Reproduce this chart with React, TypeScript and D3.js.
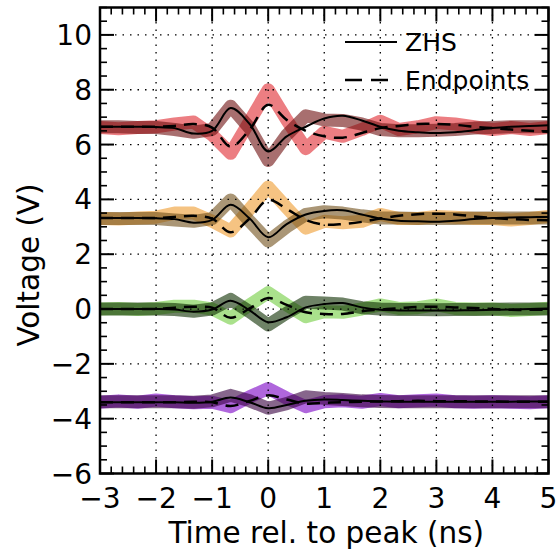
import { useEffect, useRef } from "react";
import * as d3 from "d3";

const W = 556;
const H = 554;

// sample times (ns), 1/3 ns spacing
const times = [
  -3, -2.67, -2.33, -2, -1.67, -1.33, -1, -0.67, -0.33, 0, 0.33, 0.67, 1,
  1.33, 1.67, 2, 2.33, 2.67, 3, 3.33, 3.67, 4, 4.33, 4.67, 5,
];

// red trace
const redZhsBand = [6.65, 6.65, 6.62, 6.62, 6.55, 6.45, 6.55, 7.4, 6.6, 5.42, 6.35, 7.05, 6.9, 6.88, 6.75, 6.55, 6.5, 6.5, 6.52, 6.55, 6.6, 6.62, 6.65, 6.65, 6.65];
const redEndBand = [6.62, 6.58, 6.62, 6.65, 6.75, 6.82, 6.35, 5.68, 6.85, 8.0, 6.9, 5.85, 6.45, 6.3, 6.55, 6.85, 6.55, 6.65, 6.8, 6.75, 6.65, 6.55, 6.62, 6.55, 6.62];
const redZhs = [6.65, 6.65, 6.65, 6.64, 6.6, 6.4, 6.5, 7.33, 6.75, 5.75, 6.3, 6.65, 6.95, 7.05, 6.88, 6.65, 6.5, 6.45, 6.42, 6.45, 6.52, 6.6, 6.65, 6.68, 6.7];
const redEnd = [6.65, 6.65, 6.65, 6.65, 6.68, 6.75, 6.62, 5.92, 6.55, 7.45, 6.9, 6.5, 6.3, 6.25, 6.42, 6.6, 6.68, 6.75, 6.75, 6.72, 6.65, 6.6, 6.55, 6.5, 6.47];

// orange trace
const orangeZhsBand = [3.3, 3.3, 3.3, 3.3, 3.25, 3.2, 3.3, 3.98, 3.2, 2.48, 3.0, 3.45, 3.55, 3.5, 3.4, 3.32, 3.32, 3.3, 3.3, 3.3, 3.32, 3.32, 3.32, 3.32, 3.32];
const orangeEndBand = [3.3, 3.28, 3.32, 3.35, 3.5, 3.5, 3.2, 2.85, 3.65, 4.45, 3.7, 2.95, 3.2, 3.15, 3.2, 3.45, 3.3, 3.3, 3.38, 3.35, 3.3, 3.3, 3.25, 3.3, 3.38];
const orangeZhs = [3.32, 3.32, 3.32, 3.31, 3.28, 3.15, 3.25, 3.8, 3.3, 2.62, 3.1, 3.45, 3.58, 3.6, 3.45, 3.3, 3.22, 3.2, 3.18, 3.22, 3.28, 3.32, 3.34, 3.35, 3.36];
const orangeEnd = [3.32, 3.32, 3.32, 3.32, 3.36, 3.4, 3.3, 2.8, 3.3, 3.98, 3.65, 3.25, 3.08, 3.1, 3.18, 3.3, 3.4, 3.46, 3.48, 3.45, 3.38, 3.32, 3.28, 3.25, 3.24];

// green trace
const greenZhsBand = [0, 0, 0, 0, -0.02, -0.08, 0, 0.35, -0.1, -0.58, -0.15, 0.25, 0.22, 0.18, 0.05, 0, -0.02, -0.02, -0.03, -0.02, -0.02, -0.01, 0, 0, 0];
const greenEndBand = [0, 0.02, -0.02, 0.02, 0.1, 0.1, 0.0, -0.33, 0.15, 0.6, 0.15, -0.28, -0.1, -0.12, 0, 0.15, 0.02, 0.05, 0.15, 0.02, 0, 0, -0.05, -0.02, 0.03];
const greenZhs = [0, 0, 0, 0, -0.02, -0.1, -0.02, 0.3, -0.05, -0.48, -0.3, 0.06, 0.18, 0.22, 0.06, -0.03, -0.05, -0.05, -0.05, -0.05, -0.04, -0.03, -0.02, 0, 0.02];
const greenEnd = [0, 0, 0, 0, 0.05, 0.08, 0.05, -0.32, 0.02, 0.4, 0.15, -0.12, -0.18, -0.18, -0.08, -0.02, 0.03, 0.08, 0.08, 0.06, 0.04, 0, -0.03, -0.03, -0.02];

// purple trace
const purpleZhsBand = [-3.38, -3.38, -3.38, -3.38, -3.38, -3.4, -3.35, -3.15, -3.35, -3.62, -3.45, -3.2, -3.26, -3.3, -3.35, -3.37, -3.38, -3.38, -3.38, -3.38, -3.38, -3.38, -3.38, -3.38, -3.38];
const purpleEndBand = [-3.4, -3.35, -3.4, -3.32, -3.38, -3.42, -3.4, -3.56, -3.2, -2.9, -3.25, -3.56, -3.38, -3.35, -3.4, -3.3, -3.38, -3.35, -3.32, -3.38, -3.4, -3.38, -3.4, -3.42, -3.38];
const purpleZhs = [-3.4, -3.4, -3.4, -3.4, -3.4, -3.42, -3.38, -3.23, -3.4, -3.62, -3.5, -3.35, -3.3, -3.32, -3.35, -3.37, -3.38, -3.38, -3.38, -3.38, -3.38, -3.38, -3.38, -3.37, -3.37];
const purpleEnd = [-3.4, -3.4, -3.4, -3.4, -3.4, -3.38, -3.4, -3.54, -3.35, -3.15, -3.3, -3.45, -3.42, -3.4, -3.38, -3.37, -3.36, -3.35, -3.36, -3.36, -3.37, -3.37, -3.38, -3.38, -3.38];

const xTicks = [-3, -2, -1, 0, 1, 2, 3, 4, 5];
const yTicks = [-6, -4, -2, 0, 2, 4, 6, 8, 10];
const legendLabels = ["ZHS", "Endpoints"];

const traces = [
  { light: "#e0282e", dark: "#6e0f0f", endBand: redEndBand, zhsBand: redZhsBand, zhs: redZhs, end: redEnd },
  { light: "#ee9b2f", dark: "#71501a", endBand: orangeEndBand, zhsBand: orangeZhsBand, zhs: orangeZhs, end: orangeEnd },
  { light: "#71cd3f", dark: "#0d2f00", endBand: greenEndBand, zhsBand: greenZhsBand, zhs: greenZhs, end: greenEnd },
  { light: "#7a00c5", dark: "#37003f", endBand: purpleEndBand, zhsBand: purpleZhsBand, zhs: purpleZhs, end: purpleEnd },
];

const font = "'DejaVu Sans', sans-serif";
const fmt = (d) => (d < 0 ? "\u2212" + Math.abs(d) : String(d));

const App = () => {
  const svgRef = useRef(null);

  useEffect(() => {
    const svg = d3.select(svgRef.current);
    svg.selectAll("*").remove();

    const left = 100;
    const right = 548.5;
    const top = 7.5;
    const bottom = 473.5;

    const x = d3.scaleLinear().domain([-3, 5]).range([left, right]);
    const y = d3.scaleLinear().domain([-6, 11]).range([bottom, top]);

    svg.append("defs")
      .append("clipPath")
      .attr("id", "plotclip")
      .append("rect")
      .attr("x", left)
      .attr("y", top)
      .attr("width", right - left)
      .attr("height", bottom - top);

    const plot = svg.append("g").attr("clip-path", "url(#plotclip)");

    const band = d3.line().x((d, i) => x(times[i])).y((d) => y(d));
    const smooth = d3
      .line()
      .curve(d3.curveCatmullRom)
      .x((d, i) => x(times[i]))
      .y((d) => y(d));

    traces.forEach((t) => {
      [
        [t.endBand, t.light],
        [t.zhsBand, t.dark],
      ].forEach(([vals, c]) => {
        plot
          .append("path")
          .datum(vals)
          .attr("d", band)
          .attr("fill", "none")
          .attr("stroke", c)
          .attr("stroke-width", 13)
          .attr("stroke-linejoin", "round")
          .attr("opacity", 0.6);
      });
    });

    // grid
    const grid = svg.append("g").attr("stroke", "#000").attr("stroke-width", 1.3).attr("stroke-dasharray", "1.5,6");
    xTicks.slice(1, -1).forEach((d) => {
      grid.append("line").attr("x1", x(d)).attr("x2", x(d)).attr("y1", bottom).attr("y2", top);
    });
    yTicks.slice(1).forEach((d) => {
      grid.append("line").attr("x1", left).attr("x2", right).attr("y1", y(d)).attr("y2", y(d));
    });

    traces.forEach((t) => {
      plot
        .append("path")
        .datum(t.zhs)
        .attr("d", smooth)
        .attr("fill", "none")
        .attr("stroke", "#000")
        .attr("stroke-width", 2);
      plot
        .append("path")
        .datum(t.end)
        .attr("d", smooth)
        .attr("fill", "none")
        .attr("stroke", "#000")
        .attr("stroke-width", 2.5)
        .attr("stroke-dasharray", "13,8");
    });

    // ticks, inward on all four sides
    const ticks = svg.append("g").attr("stroke", "#000");
    const xMinor = x.ticks(40).filter((d) => !xTicks.includes(d));
    const yMinor = y.ticks(34).filter((d) => !yTicks.includes(d));
    const MAJ = 14;
    const MIN = 7;
    xTicks.forEach((d) => {
      ticks.append("line").attr("x1", x(d)).attr("x2", x(d)).attr("y1", bottom).attr("y2", bottom - MAJ).attr("stroke-width", 2);
      ticks.append("line").attr("x1", x(d)).attr("x2", x(d)).attr("y1", top).attr("y2", top + MAJ).attr("stroke-width", 2);
    });
    xMinor.forEach((d) => {
      ticks.append("line").attr("x1", x(d)).attr("x2", x(d)).attr("y1", bottom).attr("y2", bottom - MIN).attr("stroke-width", 1.6);
      ticks.append("line").attr("x1", x(d)).attr("x2", x(d)).attr("y1", top).attr("y2", top + MIN).attr("stroke-width", 1.6);
    });
    yTicks.forEach((d) => {
      ticks.append("line").attr("x1", left).attr("x2", left + MAJ).attr("y1", y(d)).attr("y2", y(d)).attr("stroke-width", 2);
      ticks.append("line").attr("x1", right).attr("x2", right - MAJ).attr("y1", y(d)).attr("y2", y(d)).attr("stroke-width", 2);
    });
    yMinor.forEach((d) => {
      ticks.append("line").attr("x1", left).attr("x2", left + MIN).attr("y1", y(d)).attr("y2", y(d)).attr("stroke-width", 1.6);
      ticks.append("line").attr("x1", right).attr("x2", right - MIN).attr("y1", y(d)).attr("y2", y(d)).attr("stroke-width", 1.6);
    });

    svg
      .append("rect")
      .attr("x", left)
      .attr("y", top)
      .attr("width", right - left)
      .attr("height", bottom - top)
      .attr("fill", "none")
      .attr("stroke", "#000")
      .attr("stroke-width", 2.5);

    // tick labels
    const labels = svg.append("g").attr("font-family", font).attr("font-size", 28).attr("fill", "#000");
    xTicks.forEach((d) => {
      labels.append("text").attr("x", x(d)).attr("y", bottom + 34).attr("text-anchor", "middle").text(fmt(d));
    });
    yTicks.forEach((d) => {
      labels.append("text").attr("x", left - 8).attr("y", y(d) + 10).attr("text-anchor", "end").text(fmt(d));
    });

    svg
      .append("text")
      .attr("x", (left + right) / 2 + 2)
      .attr("y", 543)
      .attr("text-anchor", "middle")
      .attr("font-family", font)
      .attr("font-size", 29.5)
      .text("Time rel. to peak (ns)");

    svg
      .append("text")
      .attr("transform", `translate(39,265) rotate(-90)`)
      .attr("text-anchor", "middle")
      .attr("font-family", font)
      .attr("font-size", 29.5)
      .text("Voltage (V)");

    // legend
    const leg = svg.append("g");
    legendLabels.forEach((name, i) => {
      const ly = 42 + i * 38;
      leg
        .append("line")
        .attr("x1", 345)
        .attr("x2", 397)
        .attr("y1", ly)
        .attr("y2", ly)
        .attr("stroke", "#000")
        .attr("stroke-width", i === 0 ? 2 : 2.5)
        .attr("stroke-dasharray", i === 0 ? null : "17,9");
      leg
        .append("text")
        .attr("x", 405)
        .attr("y", ly + 9)
        .attr("font-family", font)
        .attr("font-size", 25)
        .text(name);
    });
  }, []);

  return (
    <svg
      ref={svgRef}
      width={W}
      height={H}
      style={{ position: "absolute", left: 0, top: 0, background: "#fff" }}
    />
  );
};

export default App;
